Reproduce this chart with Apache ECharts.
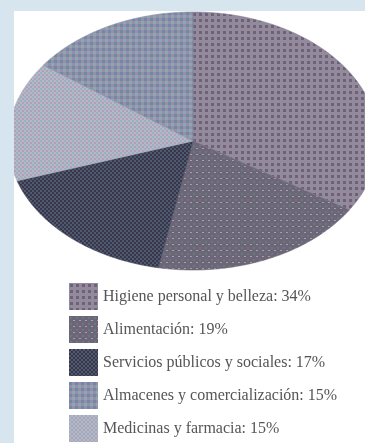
<!DOCTYPE html>
<html>
<head>
<meta charset="utf-8">
<script src="https://cdn.jsdelivr.net/npm/echarts@6/dist/echarts.min.js"></script>
<style>
  html, body { margin: 0; padding: 0; background: #ffffff; }
  #chart { width: 365px; height: 443px; }
</style>
</head>
<body>
<div id="chart"></div>
<script>
// Spending shares by category (percent)
const categories = [
  'Higiene personal y belleza',
  'Alimentación',
  'Servicios públicos y sociales',
  'Almacenes y comercialización',
  'Medicinas y farmacia'
];
const shares = [34, 19, 17, 15, 15];
// Order in which slices run clockwise from twelve o'clock
const sliceOrder = [
  'Higiene personal y belleza',
  'Alimentación',
  'Servicios públicos y sociales',
  'Medicinas y farmacia',
  'Almacenes y comercialización'
];

// Dithered tile fills for each category
function makeTile(size, bg, dots) {
  const c = document.createElement('canvas');
  c.width = size; c.height = size;
  const g = c.getContext('2d');
  g.fillStyle = bg;
  g.fillRect(0, 0, size, size);
  dots.forEach(d => { g.fillStyle = d[4]; g.fillRect(d[0], d[1], d[2], d[3]); });
  return { image: c, repeat: 'repeat' };
}
const fills = {
  'Higiene personal y belleza': makeTile(6, '#938a9c', [[1, 1, 3, 3, '#6d6279']]),
  'Alimentación': makeTile(6, '#6e6677', [[1, 1, 2, 2, '#5f7e83'], [4, 4, 2, 1, '#a69cb7']]),
  'Servicios públicos y sociales': makeTile(4, '#3a3649', [[2, 0, 2, 2, '#4c5b72'], [0, 2, 2, 2, '#4f5a70']]),
  'Almacenes y comercialización': makeTile(6, '#978ea8', [[0, 0, 3, 3, '#7089a8'], [3, 3, 3, 3, '#8ba7b2']]),
  'Medicinas y farmacia': makeTile(4, '#bbb5c7', [[0, 0, 2, 2, '#93b3bf'], [2, 2, 2, 2, '#a9a2b8']])
};
const edgeColors = {
  'Higiene personal y belleza': '#837990',
  'Alimentación': '#6d6677',
  'Servicios públicos y sociales': '#45455a',
  'Almacenes y comercialización': '#8891a9',
  'Medicinas y farmacia': '#aeb1c1'
};

// Cumulative start/end (percent) of each slice going clockwise
const sliceRanges = {};
let acc = 0;
sliceOrder.forEach(name => {
  const v = shares[categories.indexOf(name)];
  sliceRanges[name] = [acc, acc + v];
  acc += v;
});

// Elliptical pie geometry
const CX = 193, CY = 141, RX = 185, RY = 129;

function renderSlice(params, api) {
  const a0 = api.value(0) / 100 * Math.PI * 2;
  const a1 = api.value(1) / 100 * Math.PI * 2;
  const pts = [[CX, CY]];
  const steps = Math.max(2, Math.ceil((a1 - a0) / 0.01));
  for (let i = 0; i <= steps; i++) {
    const a = a0 + (a1 - a0) * i / steps;
    pts.push([CX + RX * Math.sin(a), CY - RY * Math.cos(a)]);
  }
  const name = params.seriesName;
  return {
    type: 'polygon',
    shape: { points: pts },
    style: { fill: fills[name], stroke: edgeColors[name], lineWidth: 0.6 }
  };
}

const series = sliceOrder.map(name => ({
  type: 'custom',
  name: name,
  coordinateSystem: 'none',
  renderItem: renderSlice,
  itemStyle: { color: edgeColors[name] },
  silent: true,
  data: [sliceRanges[name]]
}));

const chart = echarts.init(document.getElementById('chart'), null, { renderer: 'canvas' });
chart.setOption({
  backgroundColor: '#ffffff',
  animation: false,
  graphic: [
    { type: 'rect', left: 0, top: 0, z: 100, shape: { width: 14, height: 443 }, style: { fill: '#d7e6ee' } },
    { type: 'rect', left: 0, top: 0, z: 100, shape: { width: 365, height: 11 }, style: { fill: '#d7e6ee' } }
  ],
  legend: {
    orient: 'vertical',
    left: 69,
    top: 283,
    icon: 'rect',
    itemWidth: 29,
    itemHeight: 27,
    itemGap: 6,
    selectedMode: false,
    padding: 0,
    data: categories.map(name => ({ name: name, itemStyle: { color: fills[name] } })),
    formatter: name => name + ': ' + shares[categories.indexOf(name)] + '%',
    textStyle: {
      fontFamily: 'Liberation Serif',
      fontSize: 16,
      color: '#555555',
      padding: [7, 0, 0, 0]
    }
  },
  series: series
});
</script>
</body>
</html>
